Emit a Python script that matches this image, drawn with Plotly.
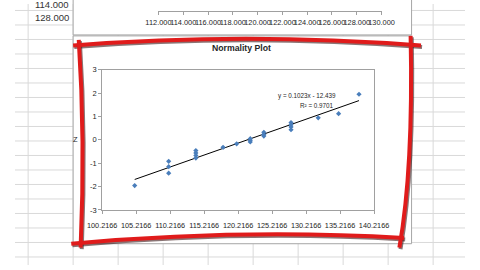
import plotly.graph_objects as go

# ---- data ----
x_vals = [105, 110, 110, 110, 114, 114, 114, 114, 118, 120, 122, 122, 122,
          124, 124, 124, 128, 128, 128, 128, 132, 135, 138]
z_vals = [-1.96, -1.43, -1.15, -0.92, -0.78, -0.67, -0.56, -0.46, -0.32, -0.17,
          -0.09, -0.02, 0.05, 0.16, 0.23, 0.32, 0.43, 0.55, 0.64, 0.74, 0.94, 1.12, 1.95]
slope = 0.1023
intercept = -12.439
eq_text = "y = 0.1023x - 12.439"
r2_text = "R² = 0.9701"
title_text = "Normality Plot"
y_ticks = [-3, -2, -1, 0, 1, 2, 3]
y_ticktext = ["-3", "-2", "-1", "0", "1", "2", "3"]
top_ticks = [112, 114, 116, 118, 120, 122, 124, 126, 128, 130]
top_ticktext = ["112.000", "114.000", "116.000", "118.000", "120.000",
                "122.000", "124.000", "126.000", "128.000", "130.000"]
cell_texts = ["114.000", "128.000"]

W, H = 480, 270
def px(x): return x / W
def py(y): return 1 - y / H

FONT = "Liberation Sans"
TXT = "#262626"

fig = go.Figure()

x_line = [min(x_vals), max(x_vals)]
y_line = [slope * v + intercept for v in x_line]
fig.add_trace(go.Scatter(x=x_line, y=y_line, mode="lines",
                         line=dict(color="#000000", width=1), showlegend=False, hoverinfo="skip"))
fig.add_trace(go.Scatter(x=x_vals, y=z_vals, mode="markers",
                         marker=dict(symbol="diamond", size=4, color="#4a7ebb"),
                         showlegend=False))
fig.add_trace(go.Scatter(x=[top_ticks[0], top_ticks[-1]], y=[0, 0], xaxis="x2", yaxis="y2",
                         mode="markers", marker=dict(opacity=0), showlegend=False, hoverinfo="skip"))

shapes = []
# spreadsheet gridlines
for k in range(19):
    y = 6.7 + 15 * k
    shapes.append(dict(type="line", xref="paper", yref="paper", x0=0, x1=1, y0=py(y), y1=py(y),
                       line=dict(color="#d9d9d9", width=1), layer="below"))
for k in range(10):
    x = 14 + 48 * k
    shapes.append(dict(type="line", xref="paper", yref="paper", x0=px(x), x1=px(x), y0=0, y1=1,
                       line=dict(color="#d9d9d9", width=1), layer="below"))
# chart objects
shapes.append(dict(type="rect", xref="paper", yref="paper", x0=px(62), x1=px(423), y0=py(32), y1=py(-5),
                   fillcolor="white", line=dict(color="#a6a6a6", width=1), layer="below"))
shapes.append(dict(type="rect", xref="paper", yref="paper", x0=px(62), x1=px(423), y0=py(248), y1=py(33),
                   fillcolor="white", line=dict(color="#a6a6a6", width=1), layer="below"))

def path(pts, dx=0, dy=0):
    (x0, y0), (cx, cy), (x1, y1) = pts
    return "M %f,%f Q %f,%f %f,%f" % (px(x0 + dx), py(y0 + dy), px(cx + dx), py(cy + dy),
                                      px(x1 + dx), py(y1 + dy))

frame = [
    [(62, 43), (245, 29), (433, 43)],
    [(68, 37), (75, 140), (70, 252)],
    [(60, 248), (240, 232), (415, 242)],
    [(422, 33), (425, 170), (410, 252)],
]
for p in frame:
    shapes.append(dict(type="path", xref="paper", yref="paper", path=path(p, 1.2, 1.5),
                       line=dict(color="rgba(60,25,25,0.6)", width=4), layer="above"))
for p in frame:
    shapes.append(dict(type="path", xref="paper", yref="paper", path=path(p),
                       line=dict(color="#e01b1b", width=4), layer="above"))

annotations = [
    dict(text=title_text, x=px(242), y=py(46), xref="paper", yref="paper", showarrow=False,
         font=dict(family=FONT, size=8.7, color=TXT, weight="bold"), xanchor="center", yanchor="middle"),
    dict(text="Z", x=px(65), y=py(140), xref="paper", yref="paper", showarrow=False,
         font=dict(family=FONT, size=7.5, color=TXT), xanchor="center", yanchor="middle"),
    dict(text=eq_text, x=px(311), y=py(95), xref="paper", yref="paper", showarrow=False,
         font=dict(family=FONT, size=6.3, color=TXT), xanchor="center", yanchor="middle"),
    dict(text=r2_text, x=px(322), y=py(104.5), xref="paper", yref="paper", showarrow=False,
         font=dict(family=FONT, size=6.3, color=TXT), xanchor="center", yanchor="middle"),
]
for t, yy in zip(cell_texts, [0.5, 14]):
    annotations.append(dict(text=t, x=px(60), y=py(yy), xref="paper", yref="paper", showarrow=False,
                            font=dict(family=FONT, size=9.5, color="#333333"),
                            xanchor="right", yanchor="middle"))

fig.update_layout(
    width=W, height=H, margin=dict(l=0, r=0, t=0, b=0),
    paper_bgcolor="white", plot_bgcolor="rgba(0,0,0,0)",
    shapes=shapes, annotations=annotations,
    xaxis=dict(domain=[px(93), px(383)], range=[100.2166, 140.2166], tick0=100.2166, dtick=5,
               tickformat=".4f", tickangle=0, showline=True, linecolor="#a0a0a0", mirror=True,
               ticks="outside", ticklen=3, tickcolor="#a0a0a0", showgrid=False, zeroline=False,
               ticklabelstandoff=5,
               tickfont=dict(family=FONT, size=7.3, color=TXT), anchor="y"),
    yaxis=dict(domain=[py(213), py(68)], range=[-3, 3], tickvals=y_ticks, ticktext=y_ticktext,
               showline=True, linecolor="#a0a0a0", mirror=True, ticks="outside", ticklen=3,
               tickcolor="#a0a0a0", showgrid=False, zeroline=False,
               tickfont=dict(family=FONT, size=7.5, color=TXT), anchor="x"),
    xaxis2=dict(domain=[px(153), px(391)], range=[112, 130], tickvals=top_ticks, ticktext=top_ticktext,
                tickangle=0, showline=True, linecolor="#a0a0a0", ticks="outside", ticklen=3,
                tickcolor="#a0a0a0", showgrid=False, zeroline=False, anchor="y2", ticklabelstandoff=1,
                tickfont=dict(family=FONT, size=7.4, color=TXT)),
    yaxis2=dict(domain=[py(7), py(6)], visible=False, anchor="x2", range=[-1, 1]),
)

fig.write_html("out.html")
